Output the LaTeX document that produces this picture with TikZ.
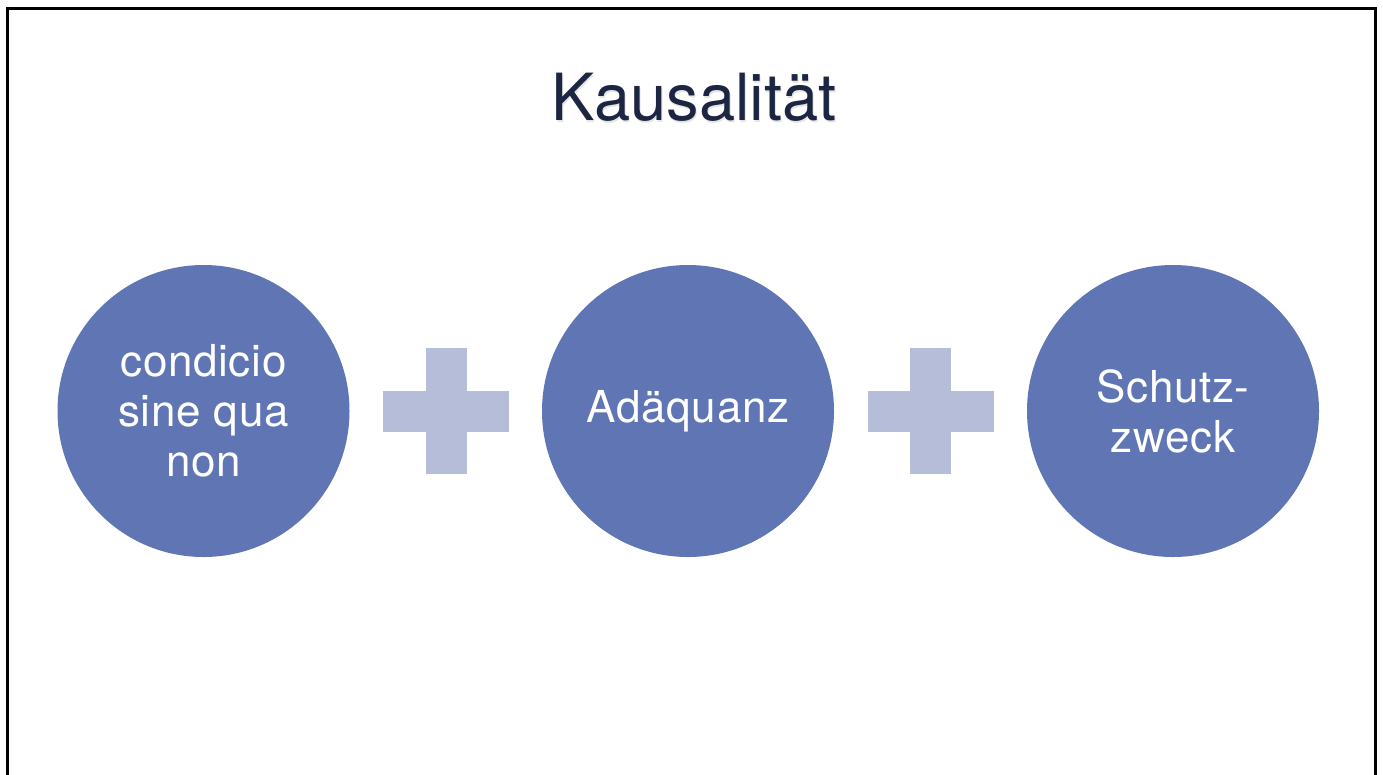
\documentclass[tikz,border=0pt]{standalone}
\usepackage{fontspec}
\setmainfont{TeX Gyre Heros}
\newfontfamily\circfont[LetterSpace=1.5]{TeX Gyre Heros}
\definecolor{circblue}{HTML}{6075B3}
\definecolor{pluscol}{HTML}{B5BDD8}
\definecolor{titlecol}{HTML}{1C2541}
\begin{document}
\begin{tikzpicture}[x=1pt,y=-1pt,
  circ/.style={circle, fill=circblue, minimum size=292pt, inner sep=0pt,
    text=white, align=center, font=\circfont\fontsize{44}{50}\selectfont},
  plusbar/.style={fill=pluscol, inner sep=0pt, draw=none},
  frame/.style={line width=3pt, black}
]
\useasboundingbox (0,0) rectangle (1383,774);
\fill[white] (0,0) rectangle (1383,774);
% frame
\coordinate (fbl) at (7.5,776);
\coordinate (ftl) at (7.5,8.5);
\coordinate (ftr) at (1375.5,8.5);
\coordinate (fbr) at (1375.5,776);
\draw[frame] (fbl) -- (ftl) -- (ftr) -- (fbr);
% title with soft shadow
\node[anchor=base, text=black!40, opacity=0.25, font=\fontsize{65}{70}\selectfont] (tshadow) at (695,122.5) {Kausalität};
\node[anchor=base, text=titlecol, font=\fontsize{65}{70}\selectfont] (title) at (694,120) {Kausalität};
% circles
\node[circ] (c1) at (203.5,411) {condicio\\sine qua\\non};
\node[circ] (c2) at (688,411) {Adäquanz};
\node[circ] (c3) at (1173,411) {Schutz-\\zweck};
% plus signs
\node[plusbar, minimum width=126pt, minimum height=41pt] (p1h) at (446,411) {};
\node[plusbar, minimum width=41pt, minimum height=126pt] (p1v) at (446,411) {};
\node[plusbar, minimum width=126pt, minimum height=41pt] (p2h) at (930.5,411) {};
\node[plusbar, minimum width=41pt, minimum height=126pt] (p2v) at (930.5,411) {};
\end{tikzpicture}
\end{document}
